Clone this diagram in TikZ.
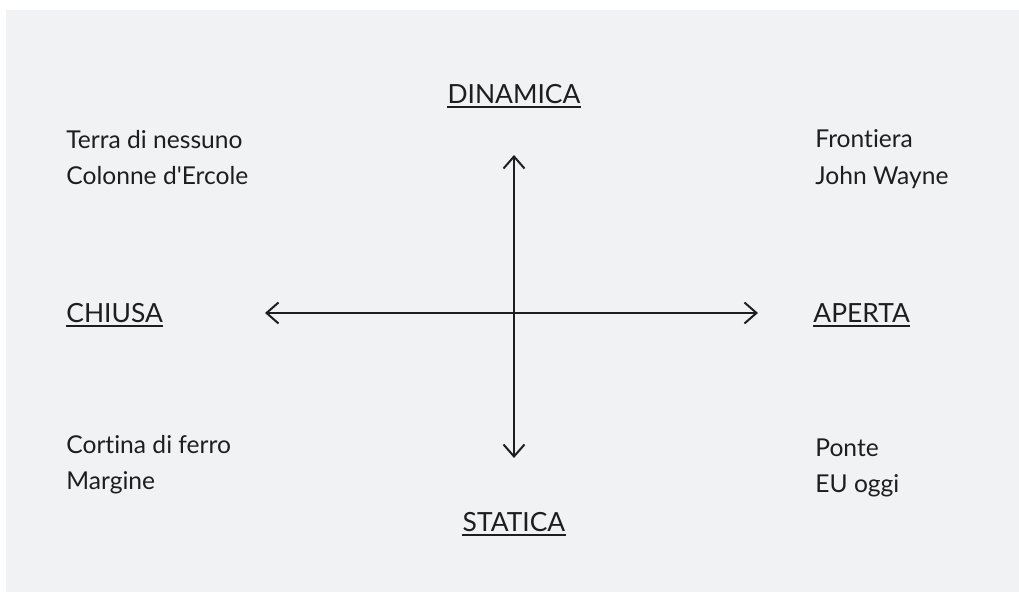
\documentclass[tikz,border=0pt]{standalone}
\usepackage{fontspec}
\setmainfont{Lato}
\newfontfamily\placefont{Lato}[Ligatures=NoCommon]
\usetikzlibrary{arrows.meta}
\definecolor{paper}{HTML}{F1F2F4}
\definecolor{ink}{HTML}{1E1E1E}
\tikzstyle{pole} = [anchor=base, inner sep=0pt, text=ink,
    font=\placefont\fontsize{13.2}{16}\selectfont]
\tikzstyle{place} = [anchor=base west, inner sep=0pt, text=ink,
    font=\placefont\fontsize{12.3}{16}\selectfont]
\tikzstyle{axis} = [coordinate]
\tikzstyle{arrowline} = [draw=ink, line width=1pt, <->]
\tikzstyle{underbar} = [draw=ink, line width=0.75pt]

\begin{document}
\begin{tikzpicture}[x=0.5pt, y=-0.5pt, >={Straight Barb[length=6pt,width=10.5pt]}]
\useasboundingbox (0,0) rectangle (1019,592);
\fill[paper] (6,10) rectangle (1019,592);

    % We start by placing the poles
    \node [pole] (dinamica) at (514,104) {DINAMICA};
    \node [pole] (statica) at (514,532) {STATICA};
    \node [pole, anchor=base west] (chiusa) at (66,323) {CHIUSA};
    \node [pole, anchor=base west] (aperta) at (813,323) {APERTA};

    \foreach \n in {dinamica, statica, chiusa, aperta}
        \draw [underbar] ([yshift=-1.4pt]\n.base west) -- ([yshift=-1.4pt]\n.base east);

    % the four corners
    \node [place] (terra) at (66,149) {Terra di nessuno};
    \node [place] (colonne) at (66,185) {Colonne d'Ercole};
    \node [place] (frontiera) at (815,148) {Frontiera};
    \node [place] (wayne) at (815,185) {John Wayne};
    \node [place] (cortina) at (66,454) {Cortina di ferro};
    \node [place] (margine) at (66,490) {Margine};
    \node [place] (ponte) at (815,457) {Ponte};
    \node [place] (eu) at (815,493) {EU oggi};

    \node [axis] (up) at (514,155) {};
    \node [axis] (down) at (514,458) {};
    \node [axis] (west) at (265,313) {};
    \node [axis] (east) at (758,313) {};

    % Once the ends are placed, the axes are easy.
    \draw [arrowline] (west) -- (east);
    \draw [arrowline] (up) -- (down);

\end{tikzpicture}
\end{document}
